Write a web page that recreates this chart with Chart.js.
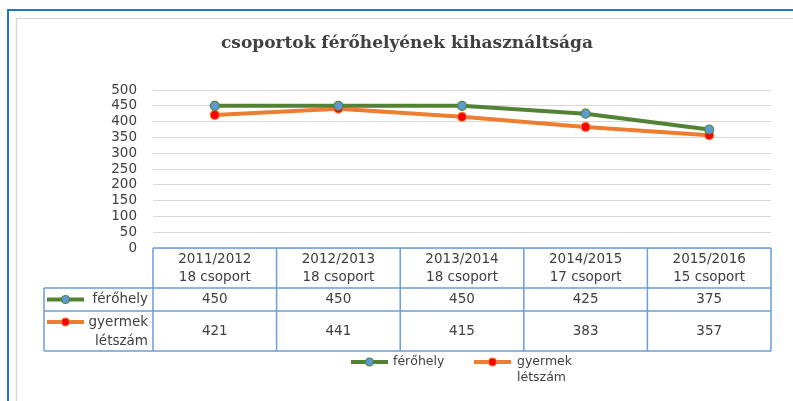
<!DOCTYPE html>
<html><head><meta charset="utf-8">
<script src="https://cdn.jsdelivr.net/npm/chart.js@4"></script>
<style>html,body{margin:0;padding:0;background:#fff}#wrap{width:793px;height:401px;position:relative}</style>
</head><body><div id="wrap"><canvas id="c"></canvas></div>
<script>
const titleText = 'csoportok férőhelyének kihasználtsága';
const categories = [['2011/2012','18 csoport'],['2012/2013','18 csoport'],['2013/2014','18 csoport'],['2014/2015','17 csoport'],['2015/2016','15 csoport']];
const seriesNames = [['férőhely'],['gyermek','létszám']];
const ferohely = [450,450,450,425,375];
const gyermek = [421,441,415,383,357];
const yMin = 0, yMax = 500, yStep = 50;

const GREEN = '#548235', ORANGE = '#ED7D31', BLUEM = '#5B9BD5', RED = '#FF0000';
const TXT = '#404040';
const FONT = '"DejaVu Sans"';
const TBL = '#6A9FD8';

function drawKey(ctx, x1, x2, y, lc, fc){
  ctx.save();
  ctx.strokeStyle = lc; ctx.lineWidth = 4; ctx.lineCap='butt';
  ctx.beginPath(); ctx.moveTo(x1,y); ctx.lineTo(x2,y); ctx.stroke();
  ctx.beginPath(); ctx.arc((x1+x2)/2, y, 4, 0, Math.PI*2);
  ctx.fillStyle = fc; ctx.fill(); ctx.lineWidth=1.2; ctx.strokeStyle=lc; ctx.stroke();
  ctx.restore();
}

const deco = {
  id:'deco',
  beforeDraw(chart){
    const ctx = chart.ctx;
    ctx.save();
    ctx.fillStyle='#fff'; ctx.fillRect(0,0,chart.width,chart.height);
    ctx.strokeStyle='#D9D9D9'; ctx.lineWidth=1.5;
    ctx.beginPath(); ctx.moveTo(16.5,chart.height+5); ctx.lineTo(16.5,18.5); ctx.lineTo(chart.width+5,18.5); ctx.stroke();
    ctx.strokeStyle='#1F77C8'; ctx.lineWidth=2;
    ctx.beginPath(); ctx.moveTo(8,chart.height+5); ctx.lineTo(8,10); ctx.lineTo(chart.width+5,10); ctx.stroke();
    ctx.fillStyle=TXT; ctx.font='bold 17px "DejaVu Serif"'; ctx.textAlign='center'; ctx.textBaseline='middle';
    ctx.fillText(titleText, 407, 44);
    ctx.restore();
  },
  afterDraw(chart){
    const ctx = chart.ctx, xs = chart.scales.x, area = chart.chartArea;
    const n = categories.length;
    const bw = (xs.getPixelForValue(1) - xs.getPixelForValue(0));
    const bounds = [];
    for(let i=0;i<=n;i++) bounds.push(xs.getPixelForValue(0) - bw/2 + i*bw);
    const top = area.bottom, hdrB = top+40, r1B = hdrB+23, r2B = r1B+40;
    const keyL = 44;
    ctx.save();
    ctx.strokeStyle=TBL; ctx.lineWidth=1.5;
    ctx.beginPath();
    ctx.moveTo(bounds[0],top); ctx.lineTo(bounds[n],top);
    ctx.moveTo(keyL,hdrB); ctx.lineTo(bounds[n],hdrB);
    ctx.moveTo(keyL,r1B); ctx.lineTo(bounds[n],r1B);
    ctx.moveTo(keyL,r2B); ctx.lineTo(bounds[n],r2B);
    ctx.moveTo(keyL,hdrB); ctx.lineTo(keyL,r2B);
    for(let i=0;i<=n;i++){ ctx.moveTo(bounds[i],top); ctx.lineTo(bounds[i],r2B); }
    ctx.stroke();
    ctx.fillStyle=TXT; ctx.font='13.5px '+FONT; ctx.textAlign='center'; ctx.textBaseline='middle';
    for(let i=0;i<n;i++){
      const cx = (bounds[i]+bounds[i+1])/2;
      ctx.fillText(categories[i][0], cx, top+11);
      ctx.fillText(categories[i][1], cx, top+29);
      ctx.fillText(String(ferohely[i]), cx, (hdrB+r1B)/2);
      ctx.fillText(String(gyermek[i]), cx, (r1B+r2B)/2);
    }
    drawKey(ctx, 47, 84, (hdrB+r1B)/2, GREEN, BLUEM);
    drawKey(ctx, 47, 84, r1B+11, ORANGE, RED);
    ctx.fillStyle=TXT; ctx.textAlign='right';
    ctx.fillText(seriesNames[0][0], 148, (hdrB+r1B)/2);
    ctx.fillText(seriesNames[1][0], 148, r1B+11);
    ctx.fillText(seriesNames[1][1], 148, r1B+30);
    const ly = r2B+11;
    drawKey(ctx, 351, 388, ly, GREEN, BLUEM);
    drawKey(ctx, 474, 511, ly, ORANGE, RED);
    ctx.textAlign='left'; ctx.fillStyle=TXT; ctx.font='12.5px '+FONT;
    ctx.fillText(seriesNames[0][0], 393, ly);
    ctx.fillText(seriesNames[1][0], 517, ly);
    ctx.fillText(seriesNames[1][1], 517, ly+16);
    ctx.restore();
  }
};

new Chart(document.getElementById('c'), {
  type:'line',
  data:{
    labels: categories.map(c=>c.join(' ')),
    datasets:[
      {label:seriesNames[0].join(' '), data:ferohely, borderColor:GREEN, borderWidth:4, pointRadius:4.5, pointBackgroundColor:BLUEM, pointBorderColor:GREEN, pointBorderWidth:1.2, tension:0},
      {label:seriesNames[1].join(' '), data:gyermek, borderColor:ORANGE, borderWidth:4, pointRadius:4.5, pointBackgroundColor:RED, pointBorderColor:ORANGE, pointBorderWidth:1.2, tension:0}
    ]
  },
  options:{
    responsive:true, maintainAspectRatio:false, animation:false,
    layout:{padding:{top:90,left:0,right:22,bottom:153}},
    plugins:{legend:{display:false}, title:{display:false}, tooltip:{enabled:false}},
    scales:{
      x:{display:false, offset:true},
      y:{min:yMin,max:yMax,
        ticks:{stepSize:yStep,autoSkip:false,color:TXT,font:{family:'DejaVu Sans',size:13.5},padding:16},
        grid:{color:'#D9D9D9',lineWidth:1,drawTicks:false},
        border:{display:false},
        afterFit(s){ s.width = 153; }
      }
    }
  },
  plugins:[deco]
});
</script></body></html>
